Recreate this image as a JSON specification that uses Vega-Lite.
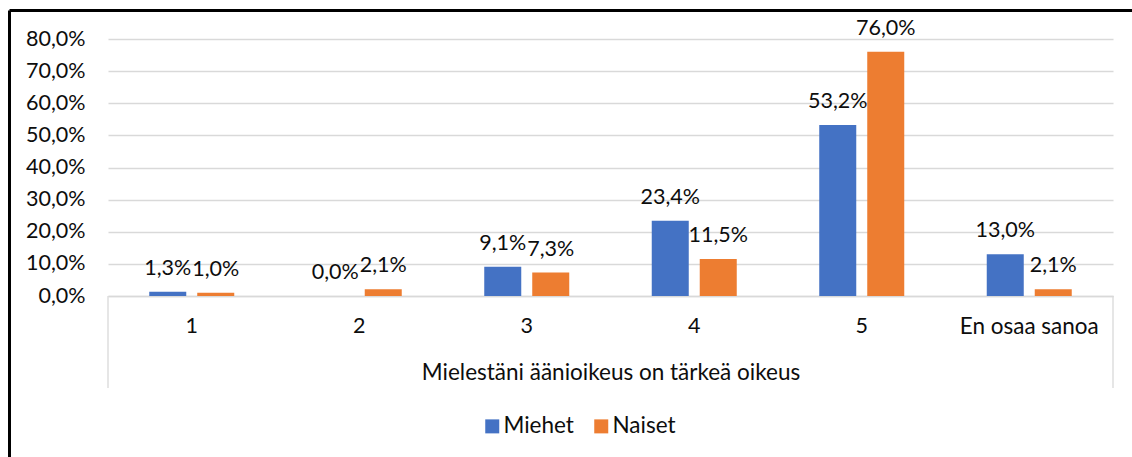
{
  "$schema": "https://vega.github.io/schema/vega-lite/v6.json",
  "width": 1123,
  "height": 447,
  "autosize": {"type": "none"},
  "padding": {"left": 9, "top": 10, "right": 0, "bottom": 0},
  "background": "white",
  "config": {
    "font": "Lato",
    "view": {"stroke": null},
    "locale": {"number": {"decimal": ",", "thousands": "\u00a0", "grouping": [3], "currency": ["", "\u00a0€"], "percent": "%"}}
  },
  "datasets": {
    "answers": [
      {"cat": "1", "group": "Miehet", "value": 0.013},
      {"cat": "1", "group": "Naiset", "value": 0.010},
      {"cat": "2", "group": "Miehet", "value": 0.000},
      {"cat": "2", "group": "Naiset", "value": 0.021},
      {"cat": "3", "group": "Miehet", "value": 0.091},
      {"cat": "3", "group": "Naiset", "value": 0.073},
      {"cat": "4", "group": "Miehet", "value": 0.234},
      {"cat": "4", "group": "Naiset", "value": 0.115},
      {"cat": "5", "group": "Miehet", "value": 0.532},
      {"cat": "5", "group": "Naiset", "value": 0.760},
      {"cat": "En osaa sanoa", "group": "Miehet", "value": 0.130},
      {"cat": "En osaa sanoa", "group": "Naiset", "value": 0.021}
    ]
  },
  "layer": [
    {
      "data": {"values": [{}]},
      "mark": {"type": "point", "opacity": 0},
      "encoding": {
        "x": {"datum": 0, "type": "quantitative", "scale": {"domain": [0, 1]},
          "axis": {"orient": "top", "domainColor": "#000000", "domainWidth": 3, "labels": false, "ticks": false, "grid": false, "title": null}},
        "y": {"datum": 0, "type": "quantitative", "scale": {"domain": [0, 1]},
          "axis": {"orient": "left", "domainColor": "#000000", "domainWidth": 3, "labels": false, "ticks": false, "grid": false, "title": null}}
      }
    },
    {
      "data": {"name": "answers"},
      "encoding": {
        "x": {
          "field": "cat", "type": "nominal", "sort": null,
          "scale": {"range": [99, 1104], "paddingInner": 0.4925, "paddingOuter": 0.24625},
          "axis": {
            "orient": "bottom", "offset": -161, "domainColor": "#d9d9d9", "domainWidth": 1.3, "ticks": false,
            "labelAngle": 0, "labelPadding": 19,
            "labelFontSize": {"condition": {"test": "datum.value == 'En osaa sanoa'", "value": 22.5}, "value": 21.5},
            "labelColor": "#0d0d0d",
            "title": "Mielestäni äänioikeus on tärkeä oikeus", "titleFontSize": 22.5,
            "titleFontWeight": "normal", "titleColor": "#0d0d0d", "titlePadding": 24, "grid": false
          }
        },
        "xOffset": {"field": "group", "type": "nominal", "scale": {"paddingInner": 0.229, "paddingOuter": 0}},
        "y": {
          "field": "value", "type": "quantitative",
          "scale": {"domain": [0, 0.8], "range": [286, 29]},
          "axis": {
            "orient": "left", "offset": -99, "domain": false, "ticks": false, "labelPadding": 23, "grid": true,
            "gridColor": "#d9d9d9", "gridWidth": 1.3, "labelFontSize": 21.5, "labelColor": "#0d0d0d",
            "title": null, "values": [0, 0.1, 0.2, 0.3, 0.4, 0.5, 0.6, 0.7, 0.8], "format": ".1%"
          }
        }
      },
      "layer": [
        {
          "mark": {"type": "bar"},
          "encoding": {
            "color": {
              "field": "group", "type": "nominal",
              "scale": {"domain": ["Miehet", "Naiset"], "range": ["#4472C4", "#ED7D31"]},
              "legend": {
                "orient": "none", "legendX": 472, "legendY": 405, "direction": "horizontal",
                "title": null, "symbolType": "square", "symbolSize": 196, "symbolStrokeWidth": 0,
                "labelFontSize": 22.5, "labelColor": "#0d0d0d", "labelOffset": 0, "columnPadding": 16
              }
            }
          }
        },
        {
          "mark": {"type": "text", "dy": -17, "baseline": "alphabetic", "fontSize": 21.5, "color": "#0d0d0d"},
          "encoding": {"text": {"field": "value", "type": "quantitative", "format": ".1%"}}
        }
      ]
    },
    {
      "data": {"values": [{}]},
      "mark": {"type": "rule", "color": "#d9d9d9", "strokeWidth": 1.3},
      "encoding": {
        "x": {"datum": 0, "type": "quantitative", "scale": {"domain": [0, 1], "range": [99, 1104]}, "axis": null},
        "y": {"datum": 0, "type": "quantitative", "scale": {"domain": [0, 0.8], "range": [286, 29]}, "axis": null},
        "y2": {"datum": -0.286}
      }
    },
    {
      "data": {"values": [{}]},
      "mark": {"type": "rule", "color": "#d9d9d9", "strokeWidth": 1.3},
      "encoding": {
        "x": {"datum": 1, "type": "quantitative", "scale": {"domain": [0, 1], "range": [99, 1104]}, "axis": null},
        "y": {"datum": 0, "type": "quantitative", "scale": {"domain": [0, 0.8], "range": [286, 29]}, "axis": null},
        "y2": {"datum": -0.286}
      }
    }
  ],
  "resolve": {"scale": {"x": "independent", "y": "independent"}}
}
